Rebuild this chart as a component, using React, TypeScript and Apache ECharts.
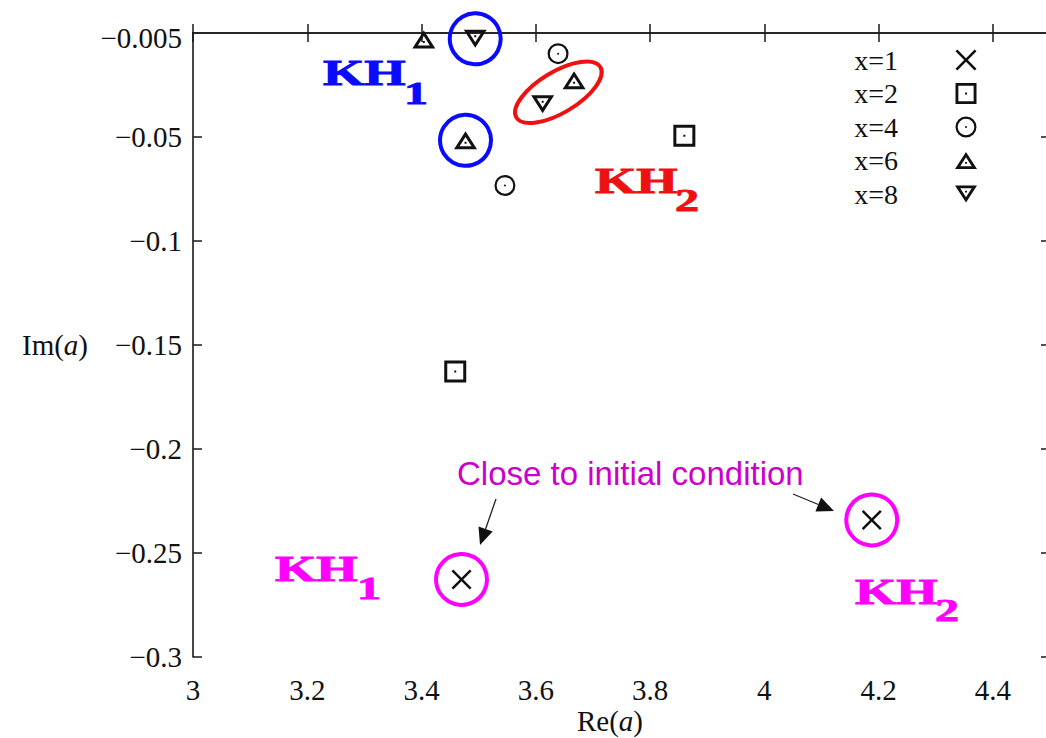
import React, { useEffect, useRef } from "react";
import * as echarts from "echarts";

// ---------- data ----------
const seriesNames = ["x=1", "x=2", "x=4", "x=6", "x=8"];
const x1Re = [3.47, 4.188];
const x1Im = [-0.2627, -0.2341];
const x2Re = [3.459, 3.86];
const x2Im = [-0.1628, -0.0494];
const x4Re = [3.639, 3.546];
const x4Im = [-0.00995, -0.0733];
const x6Re = [3.404, 3.477, 3.667];
const x6Im = [-0.0031, -0.0516, -0.0227];
const x8Re = [3.494, 3.612];
const x8Im = [-0.0028, -0.0342];

const xTickValues = [3, 3.2, 3.4, 3.6, 3.8, 4, 4.2, 4.4];
const xTickLabels = ["3", "3.2", "3.4", "3.6", "3.8", "4", "4.2", "4.4"];
const yTickValues = [-0.3, -0.25, -0.2, -0.15, -0.1, -0.05];
const yLabelValues = [-0.3, -0.25, -0.2, -0.15, -0.1, -0.05, -0.0025];
const yTickLabels = ["−0.3", "−0.25", "−0.2", "−0.15", "−0.1", "−0.05", "−0.005"];

// annotation rings (centred on data points)
const ringRe = [3.494, 3.477, 3.47, 4.188];
const ringIm = [-0.0028, -0.0516, -0.2627, -0.2341];
const ringColors = ["#0a0aff", "#0a0aff", "#ff00ff", "#ff00ff"];
const ellipseRe = [3.6395];
const ellipseIm = [-0.0285];

// ---------- marker shapes ----------
const CROSS =
  "M0,1.77 L1.77,0 L10,8.23 L18.23,0 L20,1.77 L11.77,10 L20,18.23 L18.23,20 L10,11.77 L1.77,20 L0,18.23 L8.23,10 Z";
const SQUARE =
  "M0,0 L22,0 L22,22 L0,22 Z M3,3 L3,19 L19,19 L19,3 Z M10,10 L12,10 L12,12 L10,12 Z";
const CIRCLE =
  "M0,10.5 A10.5,10.5 0 1 1 21,10.5 A10.5,10.5 0 1 1 0,10.5 Z M2.2,10.5 A8.3,8.3 0 1 0 18.8,10.5 A8.3,8.3 0 1 0 2.2,10.5 Z M9.5,10.5 A1,1 0 1 1 11.5,10.5 A1,1 0 1 1 9.5,10.5 Z";
const TRI_UP =
  "M11.5,0 L23,18 L0,18 Z M11.5,5.6 L5.5,15 L17.5,15 Z M10.5,10.5 L12.5,10.5 L12.5,12.5 L10.5,12.5 Z";
const TRI_DOWN =
  "M0,0 L23,0 L11.5,18 Z M5.5,3 L11.5,12.4 L17.5,3 Z M10.5,5.5 L12.5,5.5 L12.5,7.5 L10.5,7.5 Z";

const SERIF = "'Liberation Serif', 'DejaVu Serif', serif";
const SANS = "'Liberation Sans', Arial, sans-serif";

function zip(a: number[], b: number[]) {
  return a.map((v, i) => [v, b[i]]);
}

function arrow(sx: number, sy: number, tx: number, ty: number) {
  const dx = tx - sx;
  const dy = ty - sy;
  const len = Math.hypot(dx, dy);
  const ux = dx / len;
  const uy = dy / len;
  const L = 17;
  const W = 7.5;
  const bx = tx - ux * L;
  const by = ty - uy * L;
  return [
    {
      type: "line",
      shape: { x1: sx, y1: sy, x2: bx, y2: by },
      style: { stroke: "#222", lineWidth: 1.3 },
      silent: true,
    },
    {
      type: "polygon",
      shape: {
        points: [
          [tx, ty],
          [bx - uy * W, by + ux * W],
          [bx + uy * W, by - ux * W],
        ],
      },
      style: { fill: "#111" },
      silent: true,
    },
  ];
}

function kh(x: number, capMid: number, sub: string, subX: number, subMid: number, color: string) {
  const base = {
    fontFamily: SERIF,
    fontWeight: "bold",
    fill: color,
    stroke: color,
    lineWidth: 0.9,
    textVerticalAlign: "middle",
    verticalAlign: "middle",
    textAlign: "left",
    align: "left",
  };
  return [
    {
      type: "text",
      x,
      y: capMid,
      scaleX: 1.52,
      silent: true,
      style: { ...base, text: "KH", fontSize: 35 },
    },
    {
      type: "text",
      x: subX,
      y: subMid,
      scaleX: 1.5,
      silent: true,
      style: { ...base, text: sub, fontSize: 32 },
    },
  ];
}

function fmtX(v: number) {
  const i = xTickValues.findIndex((t) => Math.abs(t - v) < 1e-6);
  return i >= 0 ? xTickLabels[i] : "";
}
function fmtY(v: number) {
  const i = yLabelValues.findIndex((t) => Math.abs(t - v) < 1e-6);
  return i >= 0 ? yTickLabels[i] : "";
}

export default function App() {
  const ref = useRef<HTMLDivElement>(null);

  useEffect(() => {
    if (!ref.current) return;
    const chart = echarts.init(ref.current, null, { renderer: "svg" });

    const axisLine = { show: true, lineStyle: { color: "#1a1a1a", width: 1.6 } };
    const tick = { show: true, inside: true, length: 9, lineStyle: { color: "#1a1a1a", width: 1.5 } };
    const labelFont = { fontFamily: SERIF, fontSize: 29, color: "#111" };

    const symbols = [CROSS, SQUARE, CIRCLE, TRI_UP, TRI_DOWN];
    const sizes: any[] = [20, 22, 21, [23, 18], [23, 18]];
    const datas = [zip(x1Re, x1Im), zip(x2Re, x2Im), zip(x4Re, x4Im), zip(x6Re, x6Im), zip(x8Re, x8Im)];

    const scatterSeries = seriesNames.map((name, i) => ({
      type: "scatter",
      name,
      data: datas[i],
      symbol: "path://" + symbols[i],
      symbolSize: sizes[i],
      itemStyle: { color: "#111", opacity: 1 },
      clip: false,
      silent: true,
      z: 5,
    }));

    const option: any = {
      animation: false,
      backgroundColor: "#ffffff",
      grid: {
        left: 193,
        right: -4,
        top: 33,
        bottom: 81,
        containLabel: false,
        outerBoundsMode: "none",
      },
      xAxis: [
        {
          type: "value",
          min: 3,
          max: 4.5,
          interval: 0.2,
          position: "bottom",
          axisLine,
          axisTick: { ...tick, customValues: xTickValues },
          axisLabel: {
            ...labelFont,
            margin: 18,
            customValues: xTickValues,
            formatter: fmtX,
          },
          splitLine: { show: false },
        },
        {
          type: "value",
          min: 3,
          max: 4.5,
          interval: 0.2,
          position: "top",
          axisLine,
          axisTick: { ...tick, customValues: xTickValues },
          axisLabel: { show: false },
          splitLine: { show: false },
        },
      ],
      yAxis: [
        {
          type: "value",
          min: -0.3,
          max: 0,
          interval: 0.05,
          position: "left",
          axisLine,
          axisTick: { ...tick, customValues: yTickValues },
          axisLabel: {
            ...labelFont,
            margin: 11,
            customValues: yLabelValues,
            formatter: fmtY,
          },
          splitLine: { show: false },
        },
        {
          type: "value",
          min: -0.3,
          max: 0,
          interval: 0.05,
          position: "right",
          axisLine,
          axisTick: { ...tick, customValues: yTickValues },
          axisLabel: { show: false },
          splitLine: { show: false },
        },
      ],
      legend: {
        data: seriesNames,
        orient: "vertical",
        right: 69,
        top: 46,
        padding: 0,
        align: "right",
        itemWidth: 22,
        itemHeight: 21,
        itemGap: 5.5,
        selectedMode: false,
        textStyle: {
          fontFamily: SERIF,
          fontSize: 28,
          color: "#111",
          lineHeight: 28,
          padding: [0, 52, 0, 0],
        },
      },
      series: [
        ...scatterSeries,
        {
          type: "custom",
          name: "rings",
          data: zip(ringRe, ringIm),
          silent: true,
          z: 4,
          renderItem: (params: any, api: any) => {
            const p = api.coord([api.value(0), api.value(1)]);
            return {
              type: "circle",
              shape: { cx: p[0], cy: p[1], r: 25.5 },
              style: { fill: "none", stroke: ringColors[params.dataIndex], lineWidth: 4 },
            };
          },
        },
        {
          type: "custom",
          name: "ellipse",
          data: zip(ellipseRe, ellipseIm),
          silent: true,
          z: 4,
          renderItem: (params: any, api: any) => {
            const p = api.coord([api.value(0), api.value(1)]);
            return {
              type: "ellipse",
              x: p[0],
              y: p[1],
              rotation: (31 * Math.PI) / 180,
              shape: { cx: 0, cy: 0, rx: 49, ry: 20.5 },
              style: { fill: "none", stroke: "#ee1111", lineWidth: 4 },
            };
          },
        },
      ],
      graphic: [
        {
          type: "text",
          x: 88,
          y: 345,
          silent: true,
          style: {
            text: "{r|Im(}{i|a}{r|)}",
            textAlign: "right",
            align: "right",
            textVerticalAlign: "middle",
            verticalAlign: "middle",
            fill: "#111",
            rich: {
              r: { fontFamily: SERIF, fontSize: 29, fill: "#111", color: "#111" },
              i: { fontFamily: SERIF, fontSize: 29, fontStyle: "italic", fill: "#111", color: "#111" },
            },
          },
        },
        {
          type: "text",
          x: 610,
          y: 721,
          silent: true,
          style: {
            text: "{r|Re(}{i|a}{r|)}",
            textAlign: "center",
            align: "center",
            textVerticalAlign: "middle",
            verticalAlign: "middle",
            fill: "#111",
            rich: {
              r: { fontFamily: SERIF, fontSize: 29, fill: "#111", color: "#111" },
              i: { fontFamily: SERIF, fontSize: 29, fontStyle: "italic", fill: "#111", color: "#111" },
            },
          },
        },
        ...kh(323, 73, "1", 404, 93, "#0a0aff"),
        ...kh(595, 181, "2", 675, 200, "#ee1111"),
        ...kh(275, 569, "1", 357, 588, "#ff00ff"),
        ...kh(855, 592, "2", 935, 610, "#ff00ff"),
        {
          type: "text",
          x: 457,
          y: 473,
          silent: true,
          style: {
            text: "Close to initial condition",
            fontFamily: SANS,
            fontSize: 33,
            fill: "#cc00cc",
            textAlign: "left",
            align: "left",
            textVerticalAlign: "middle",
            verticalAlign: "middle",
          },
        },
        ...arrow(496, 499, 480, 545),
        ...arrow(793, 494, 834, 511),
      ],
    };

    chart.setOption(option);
    return () => chart.dispose();
  }, []);

  return (
    <div
      ref={ref}
      style={{ position: "absolute", left: 0, top: 0, width: 1046, height: 738, background: "#fff" }}
    />
  );
}
